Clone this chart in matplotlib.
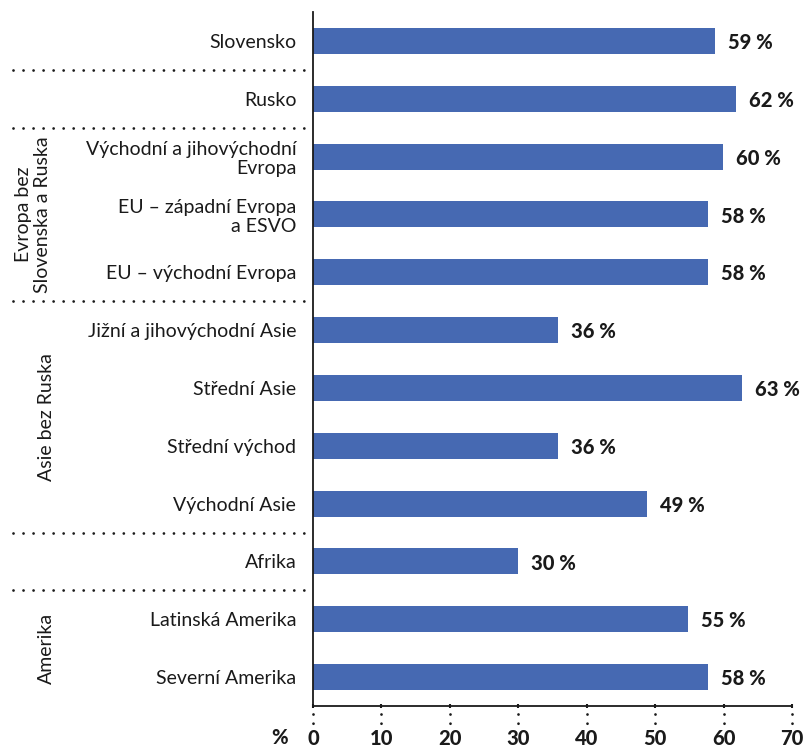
import matplotlib
matplotlib.use("Agg")
import matplotlib.pyplot as plt
from matplotlib.transforms import blended_transform_factory

categories = ["Slovensko", "Rusko", "Východní a jihovýchodní\nEvropa",
              "EU – západní Evropa\na ESVO", "EU – východní Evropa",
              "Jižní a jihovýchodní Asie", "Střední Asie", "Střední východ",
              "Východní Asie", "Afrika", "Latinská Amerika", "Severní Amerika"]
values = [58.7, 61.8, 59.9, 57.7, 57.7, 35.8, 62.7, 35.8, 48.8, 30.0, 54.8, 57.7]
value_labels = ["59 %", "62 %", "60 %", "58 %", "58 %", "36 %", "63 %", "36 %",
                "49 %", "30 %", "55 %", "58 %"]
xticks = [0, 10, 20, 30, 40, 50, 60, 70]
separators_after = [0, 1, 4, 8, 9]
groups = [("Evropa bez\nSlovenska a Ruska", 2, 4),
          ("Asie bez Ruska", 5, 8),
          ("Amerika", 10, 11)]

FONT = "Lato"
plt.rcParams['font.family'] = [FONT, 'DejaVu Sans']
TXT = '#1a1a1a'
BAR = '#4669b2'
FS = 14
BFS = 14.5

W, H = 807, 747
fig = plt.figure(figsize=(W/100, H/100), dpi=100)
ax = fig.add_axes([313/W, 1-706/H, 479/W, 694/H])

y = list(range(len(categories)))
ax.barh(y, values, height=0.45, color=BAR)
ax.set_ylim(len(categories)-0.5, -0.5)
ax.set_xlim(0, 70)

for yi, v, lab in zip(y, values, value_labels):
    ax.text(v + 1.9, yi + 0.03, lab, va='center', ha='left', fontsize=BFS,
            fontweight=900, color=TXT)

ax.set_yticks(y)
ax.set_yticklabels(categories, fontsize=FS, color=TXT, linespacing=1.15)
for lab in ax.get_yticklabels():
    lab.set_horizontalalignment('right')
ax.tick_params(axis='y', length=0, pad=12)

ax.set_xticks(xticks)
ax.set_xticklabels([str(t) for t in xticks], fontsize=BFS, fontweight=900, color=TXT)
ax.tick_params(axis='x', length=2.5, width=1.5, direction='inout', pad=15, color=TXT)

for s in ['top', 'right']:
    ax.spines[s].set_visible(False)
for s in ['left', 'bottom']:
    ax.spines[s].set_color(TXT)
    ax.spines[s].set_linewidth(1.3)

# dotted stubs under ticks
tr = blended_transform_factory(ax.transData, ax.transAxes)
for t in xticks:
    ax.plot([t, t], [-0.011, -0.033], transform=tr, clip_on=False,
            color=TXT, linestyle=(0, (0.01, 3.3)), linewidth=2.0, dash_capstyle='round')

ax.text(-0.07, -0.045, "%", transform=ax.transAxes, ha='center', va='center',
        fontsize=BFS, fontweight=900, color=TXT)

# separators
trs = blended_transform_factory(ax.transAxes, ax.transData)
for s in separators_after:
    ax.plot([-0.627, -0.008], [s + 0.5, s + 0.5], transform=trs, clip_on=False,
            color=TXT, linestyle=(0, (0.01, 3.6)), linewidth=2.0, dash_capstyle='round')

# group labels
gx = {0: 33, 1: 46, 2: 46}
for i, (name, a, b) in enumerate(groups):
    yc = (a + b) / 2
    ax.text(gx[i] / W, yc, name, transform=blended_transform_factory(fig.transFigure, ax.transData),
            rotation=90, ha='center', va='center', fontsize=FS, color=TXT,
            linespacing=1.1, multialignment='center', clip_on=False)

fig.savefig("out.png", dpi=100)
